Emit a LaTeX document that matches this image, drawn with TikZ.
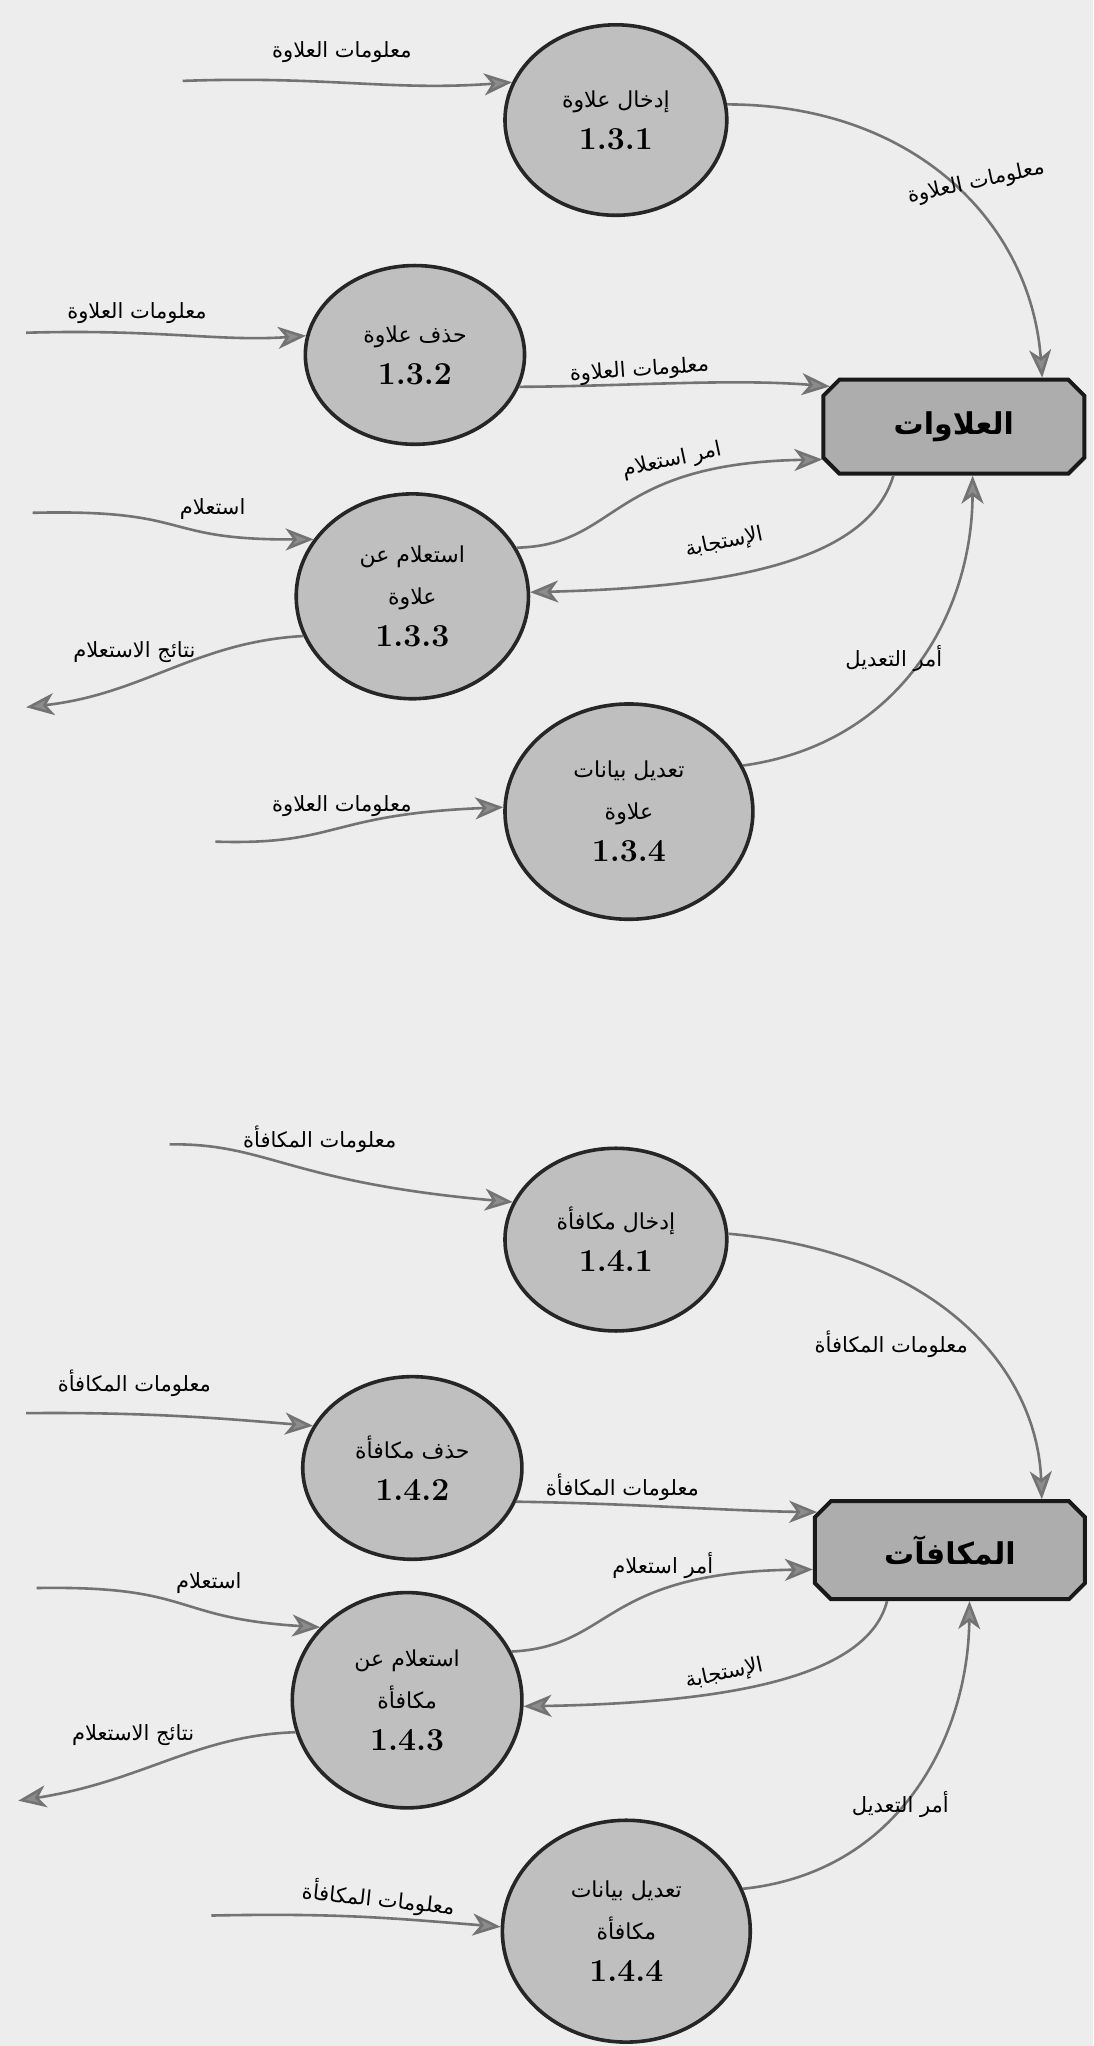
\documentclass[tikz,border=0pt]{standalone}
\usepackage{fontspec}
\newfontfamily\arabicfont[Script=Arabic]{DejaVu Sans}
\TeXXeTstate=1
\usetikzlibrary{arrows.meta,shapes.geometric,shapes.misc}
% one drawing unit
\newcommand\upx{0.6522pt}
% right-to-left Arabic text
\newcommand\artext[1]{{\arabicfont\beginR #1\endR}}
% process numbers
\newcommand\pnum[1]{{\fontsize{16}{21}\selectfont\bfseries #1}}

\tikzset{
  process/.style={ellipse, draw=black!85, line width=1.8pt, fill=black!25,
    inner sep=0pt, align=center, font=\fontsize{11}{21}\selectfont},
  store/.style={chamfered rectangle, chamfered rectangle xsep=4pt,
    chamfered rectangle ysep=4pt, draw=black!90, line width=2pt, fill=black!32,
    inner sep=0pt, font=\fontsize{15}{18}\selectfont\bfseries},
  flow/.style={draw=black!55, line width=1.3pt,
    -{Stealth[length=14pt,width=11pt,inset=4pt,fill=black!45]}},
  lbl/.style={font=\fontsize{10.5}{12}\selectfont, inner sep=1pt},
}

\begin{document}
\begin{tikzpicture}[x=0.6522pt, y=-0.6522pt]
\useasboundingbox (0,0) rectangle (838,1568);
\fill[black!7] (0,0) rectangle (838,1568);

% ---------------- allowances ----------------
\node[process, minimum width=170*\upx, minimum height=146*\upx] (c131) at (472,92)
  {\artext{إدخال علاوة}\\\pnum{1.3.1}};
\node[process, minimum width=168*\upx, minimum height=137*\upx] (c132) at (318,272)
  {\artext{حذف علاوة}\\\pnum{1.3.2}};
\node[process, minimum width=178*\upx, minimum height=157*\upx] (c133) at (316,457)
  {\artext{استعلام عن}\\\artext{علاوة}\\\pnum{1.3.3}};
\node[process, minimum width=190*\upx, minimum height=165*\upx] (c134) at (482,622)
  {\artext{تعديل بيانات}\\\artext{علاوة}\\\pnum{1.3.4}};
\node[store, minimum width=200*\upx, minimum height=72*\upx] (s13) at (731,327)
  {\artext{العلاوات}};

\coordinate (i131) at (140,62);
\coordinate (i132) at (20,255);
\coordinate (i133) at (25,393);
\coordinate (o133) at (20,542);
\coordinate (i134) at (165,645);

\draw[flow] (i131) .. controls (250,58) and (300,70) .. (c131.160);
\draw[flow] (c131.8) .. controls (700,80) and (790,170) .. (s13.29);
\draw[flow] (i132) .. controls (120,252) and (170,262) .. (c132.170);
\draw[flow] (c132.-17) .. controls (480,296) and (560,290) .. (s13.162);
\draw[flow] (c133.25) .. controls (475,418) and (465,355) .. (s13.194);
\draw[flow] (s13.219) .. controls (665,430) and (560,450) .. (c133.2);
\draw[flow] (c134.22) .. controls (690,570) and (745,470) .. (s13.-69);
\draw[flow] (i133) .. controls (150,390) and (120,414) .. (c133.150);
\draw[flow] (c133.200) .. controls (150,492) and (110,532) .. (o133);
\draw[flow] (i134) .. controls (260,648) and (250,624) .. (c134.178);

\node[lbl] (l1) at (262,40) {\artext{معلومات العلاوة}};
\node[lbl, rotate=12] (l2) at (748,140) {\artext{معلومات العلاوة}};
\node[lbl] (l3) at (105,240) {\artext{معلومات العلاوة}};
\node[lbl, rotate=4] (l4) at (490,284) {\artext{معلومات العلاوة}};
\node[lbl, rotate=12] (l5) at (515,353) {\artext{امر استعلام}};
\node[lbl, rotate=12] (l6) at (555,416) {\artext{الإستجابة}};
\node[lbl] (l7) at (685,505) {\artext{أمر التعديل}};
\node[lbl] (l8) at (163,390) {\artext{استعلام}};
\node[lbl] (l9) at (103,500) {\artext{نتائج الاستعلام}};
\node[lbl] (l10) at (262,618) {\artext{معلومات العلاوة}};

% ---------------- bonuses ----------------
\node[process, minimum width=170*\upx, minimum height=140*\upx] (c141) at (472,950)
  {\artext{إدخال مكافأة}\\\pnum{1.4.1}};
\node[process, minimum width=168*\upx, minimum height=140*\upx] (c142) at (316,1125)
  {\artext{حذف مكافأة}\\\pnum{1.4.2}};
\node[process, minimum width=176*\upx, minimum height=165*\upx] (c143) at (312,1303)
  {\artext{استعلام عن}\\\artext{مكافأة}\\\pnum{1.4.3}};
\node[process, minimum width=190*\upx, minimum height=170*\upx] (c144) at (480,1480)
  {\artext{تعديل بيانات}\\\artext{مكافأة}\\\pnum{1.4.4}};
\node[store, minimum width=207*\upx, minimum height=75*\upx] (s14) at (728,1188)
  {\artext{المكافآت}};

\coordinate (i141) at (130,877);
\coordinate (i142) at (20,1083);
\coordinate (i143) at (28,1217);
\coordinate (o143) at (14,1380);
\coordinate (i144) at (162,1468);

\draw[flow] (i141) .. controls (205,876) and (220,906) .. (c141.160);
\draw[flow] (c141.3) .. controls (720,960) and (795,1050) .. (s14.29);
\draw[flow] (i142) .. controls (120,1082) and (180,1088) .. (c142.157);
\draw[flow] (c142.-18) .. controls (480,1152) and (560,1158) .. (s14.164);
\draw[flow] (i143) .. controls (150,1215) and (130,1240) .. (c143.140);
\draw[flow] (c143.25) .. controls (470,1262) and (460,1205) .. (s14.188);
\draw[flow] (s14.219) .. controls (665,1285) and (560,1305) .. (c143.-3);
\draw[flow] (c143.196) .. controls (150,1330) and (110,1365) .. (o143);
\draw[flow] (c144.20) .. controls (690,1435) and (742,1330) .. (s14.-69);
\draw[flow] (i144) .. controls (260,1466) and (300,1470) .. (c144.178);

\node[lbl] (m1) at (245,873) {\artext{معلومات المكافأة}};
\node[lbl] (m2) at (683,1030) {\artext{معلومات المكافأة}};
\node[lbl] (m3) at (103,1060) {\artext{معلومات المكافأة}};
\node[lbl] (m4) at (477,1140) {\artext{معلومات المكافأة}};
\node[lbl] (m5) at (160,1213) {\artext{استعلام}};
\node[lbl] (m6) at (508,1200) {\artext{أمر استعلام}};
\node[lbl, rotate=12] (m7) at (555,1283) {\artext{الإستجابة}};
\node[lbl] (m8) at (102,1330) {\artext{نتائج الاستعلام}};
\node[lbl] (m9) at (690,1383) {\artext{أمر التعديل}};
\node[lbl, rotate=-6] (m10) at (290,1455) {\artext{معلومات المكافأة}};
\end{tikzpicture}
\end{document}
